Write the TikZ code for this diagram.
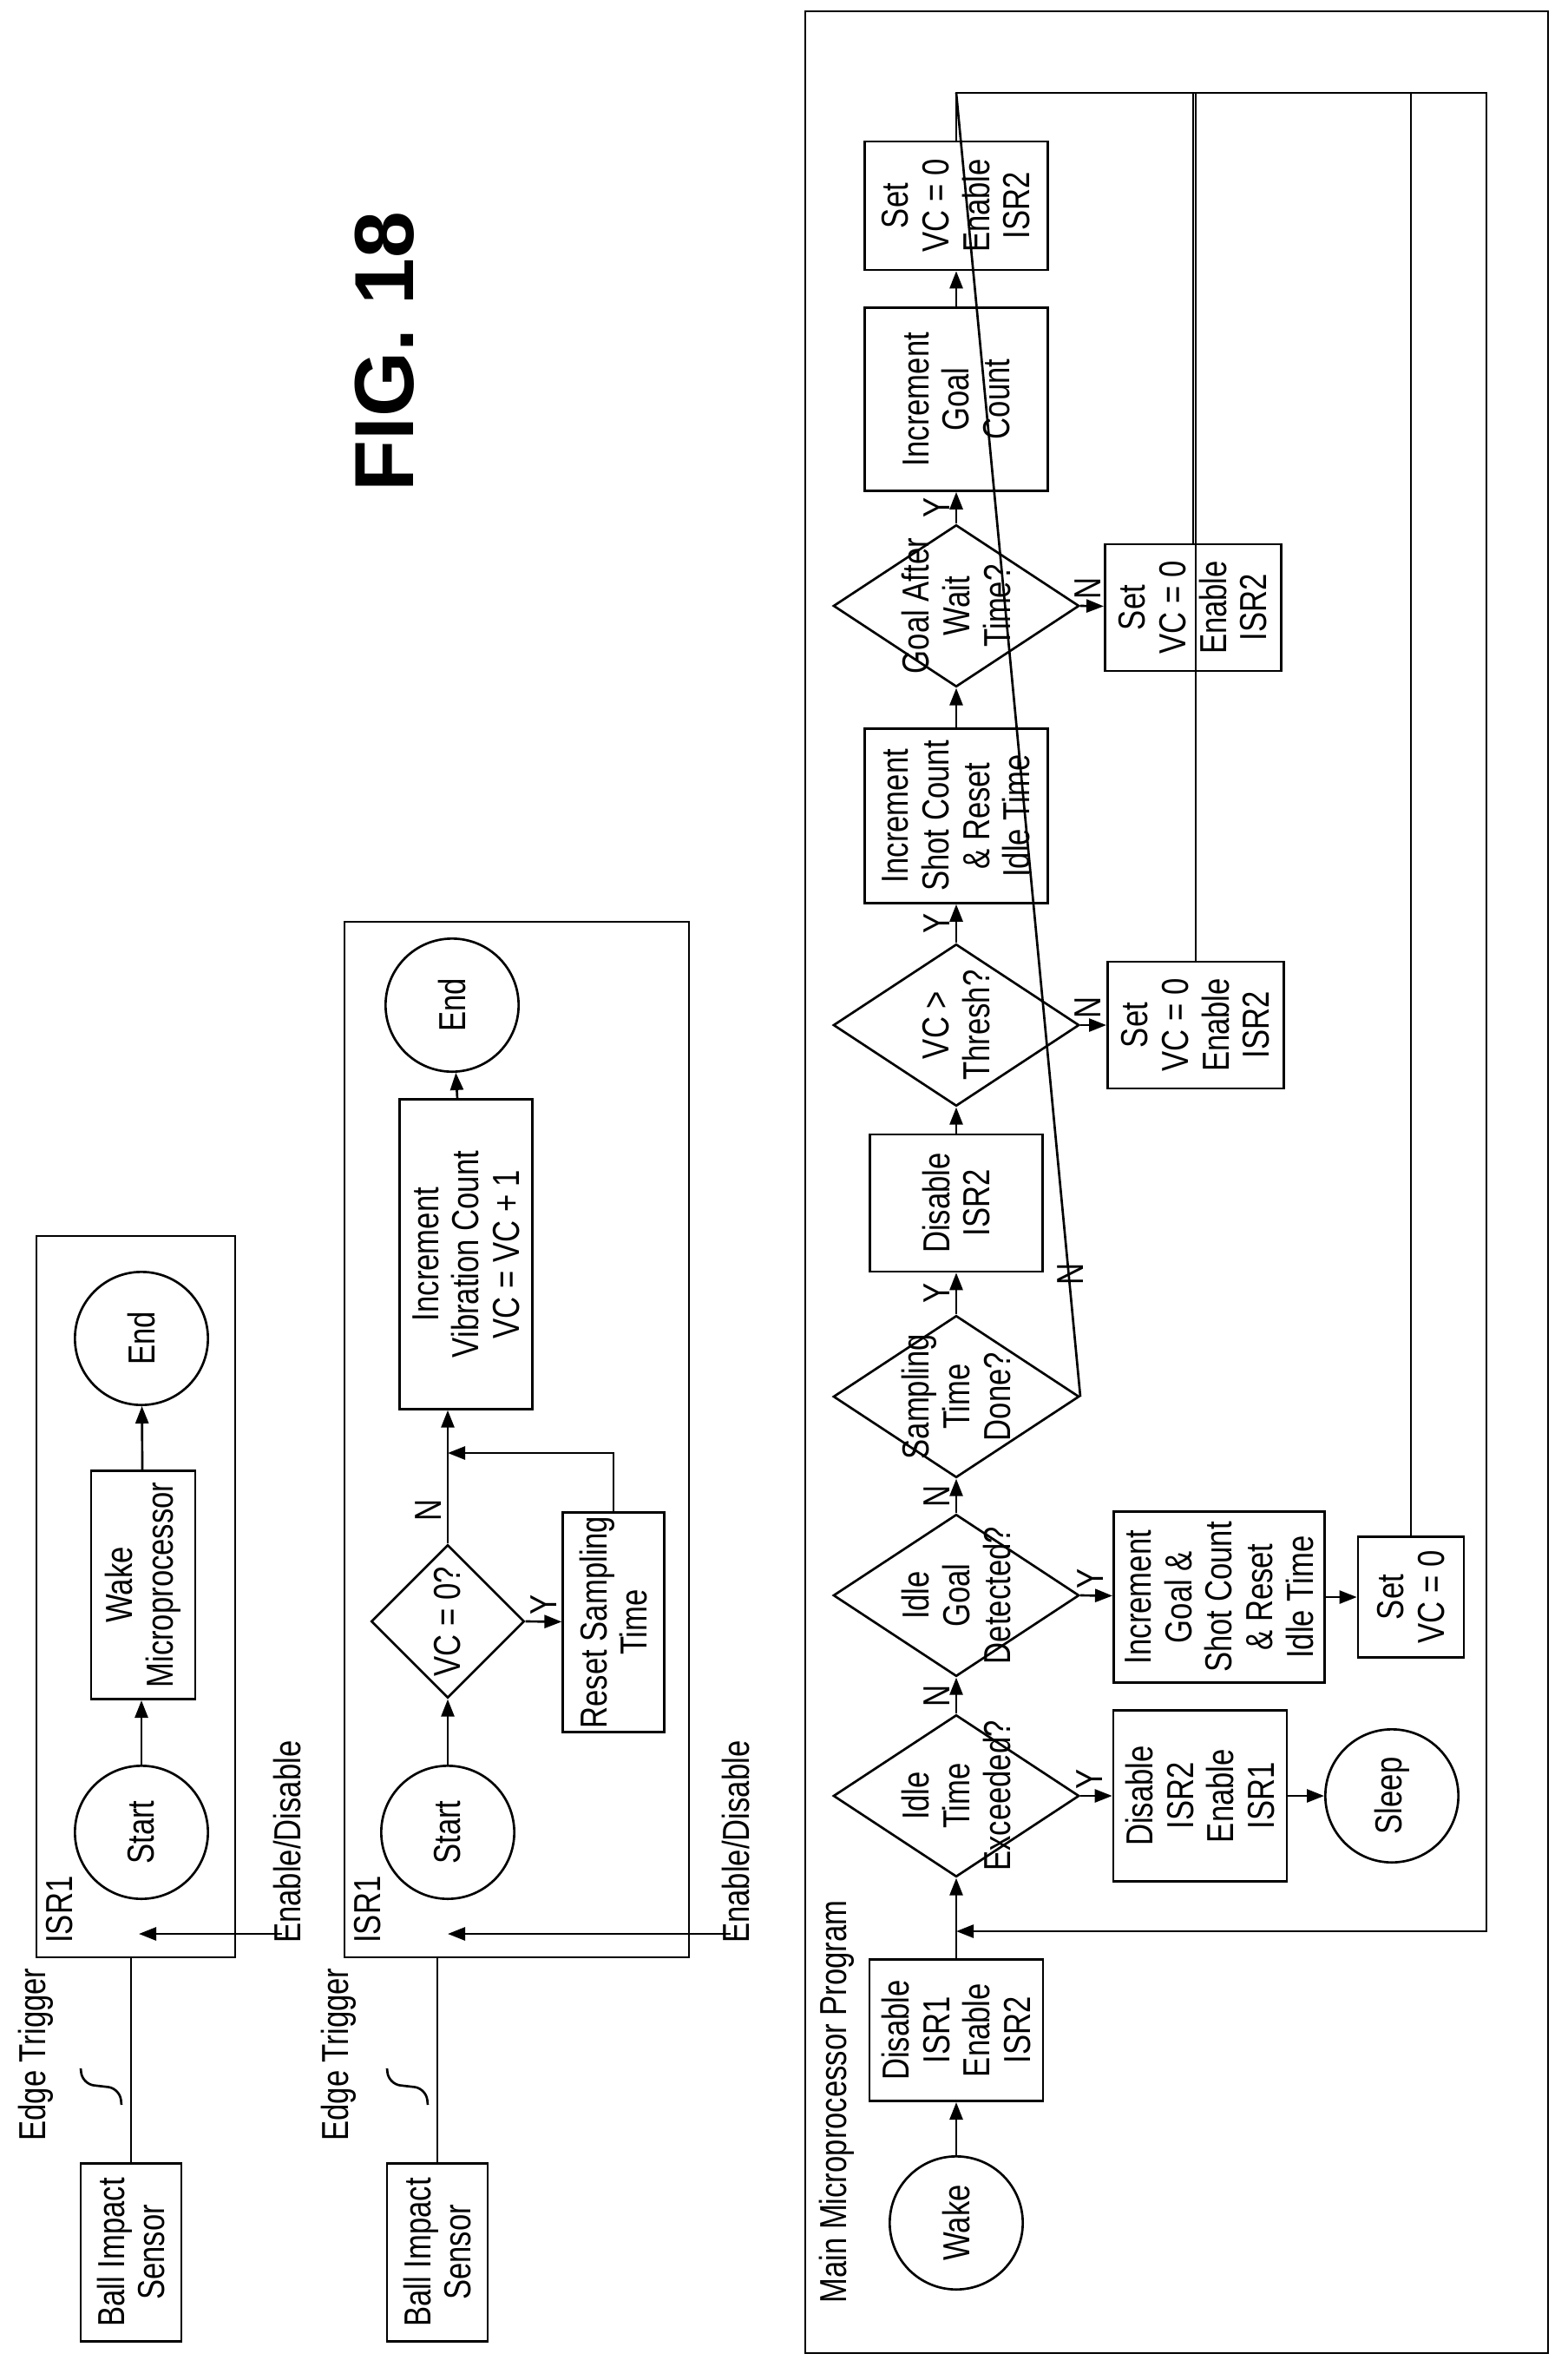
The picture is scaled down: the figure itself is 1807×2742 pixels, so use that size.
\documentclass[tikz,border=0pt]{standalone}
\usepackage{fontspec}
\setmainfont{Liberation Sans}[FakeStretch=0.8]
\newfontfamily\figfont{Liberation Sans}
\usetikzlibrary{arrows.meta,shapes.geometric}

\tikzset{every picture/.style={line width=0.8pt}}
\tikzset{
  txt/.style={font=\fontsize{13}{14}\selectfont, align=center},
  blk/.style={txt, draw, rectangle, inner sep=1pt},
  term/.style={txt, draw, circle, minimum size=46pt, inner sep=0pt},
  dec/.style={draw, diamond, minimum width=56pt, minimum height=85pt, inner sep=0pt},
  dlab/.style={txt, inner sep=0pt},
  flow/.style={-{Triangle[length=6pt,width=4.5pt]}},
  yn/.style={txt, inner sep=2pt}
}

\begin{document}
\begin{tikzpicture}[x=0.3pt,y=0.3pt]
\useasboundingbox (0,0) rectangle (1807,-2742);
\begin{scope}[rotate=90, transform shape]

% title
\node[font=\figfont\fontsize{29}{30}\selectfont\bfseries] (fig) at (-405,-443) {FIG. 18};

% first ISR1
\draw (-2255,-42) rectangle (-1424,-271);
\node[txt, anchor=north west, inner sep=0pt] (isrA) at (-2240,-52) {ISR1};
\node[term] (startA) at (-2111,-163) {Start};
\node[blk, minimum width=79pt, minimum height=36pt] (wakeA) at (-1826,-165) {Wake\\Microprocessor};
\node[term] (endA) at (-1542,-163) {End};
\draw[flow] (startA) -- (startA -| wakeA.west);
\draw[flow] (wakeA) -- (endA);
\node[blk, minimum width=61.5pt, minimum height=34.8pt] (sensA) at (-2595,-151) {Ball Impact\\Sensor};
\coordinate (inA) at (-2255,-151);
\draw (sensA) -- (inA);
\node[txt] (edgeA) at (-2367,-41) {Edge Trigger};
\draw[rounded corners=4pt] (-2383,-93) -- (-2401,-95) -- (-2406,-138) -- (-2425,-140);
\coordinate (enA) at (-2228,-325);
\coordinate (enAt) at (-2228,-160);
\draw[flow] (enA) -- (enAt);
\node[txt, anchor=west, inner sep=0pt] (enAl) at (-2240,-331) {Enable/Disable};

% second ISR1
\draw (-2255,-397) rectangle (-1062,-794);
\node[txt, anchor=north west, inner sep=0pt] (isrB) at (-2240,-407) {ISR1};
\node[term] (startB) at (-2111,-516) {Start};
\node[draw, diamond, minimum width=53pt, minimum height=53pt, inner sep=0pt,
      label={[dlab]center:VC = 0?}] (vcz) at (-1868,-516) {};
\node[blk, minimum width=76pt, minimum height=35pt] (reset) at (-1869,-707) {Reset Sampling\\Time};
\node[blk, minimum width=107pt, minimum height=46pt] (incv) at (-1445,-537) {Increment\\Vibration Count\\VC = VC + 1};
\node[term] (endB) at (-1158,-521) {End};
\coordinate (rj) at (-1674,-516);
\draw[flow] (startB) -- (vcz);
\draw[flow] (vcz.east) -- node[yn, above, pos=0.25] {N} (vcz.east -| incv.west);
\draw[flow] (vcz.south) -- node[yn, right] {Y} (reset);
\draw[flow] (reset.east) -| (rj);
\draw[flow] (incv) -- (endB);
\node[blk, minimum width=61.5pt, minimum height=34.8pt] (sensB) at (-2595,-504) {Ball Impact\\Sensor};
\coordinate (inB) at (-2255,-504);
\draw (sensB) -- (inB);
\node[txt] (edgeB) at (-2367,-390) {Edge Trigger};
\draw[rounded corners=4pt] (-2383,-446) -- (-2401,-448) -- (-2406,-491) -- (-2425,-493);
\coordinate (enB) at (-2228,-842);
\coordinate (enBt) at (-2228,-516);
\draw[flow] (enB) -- (enBt);
\node[txt, anchor=west, inner sep=0pt] (enBl) at (-2240,-848) {Enable/Disable};

% main program
\draw (-2711,-928) rectangle (-13,-1784);
\node[txt, anchor=west, inner sep=0pt] (mainl) at (-2655,-964) {Main Microprocessor Program};
\node[term] (wake) at (-2561,-1102) {Wake};
\node[blk, minimum width=49pt, minimum height=60pt] (dis1) at (-2339,-1102) {Disable\\ISR1\\Enable\\ISR2};
\node[dec, label={[dlab]center:Idle\\Time\\Exceeded?}] (idle) at (-2069,-1102) {};
\node[blk, minimum width=59pt, minimum height=60pt] (dis2en1) at (-2069,-1383) {Disable\\ISR2\\Enable\\ISR1};
\node[term] (sleep) at (-2069,-1604) {Sleep};
\node[dec, label={[dlab]center:Idle\\Goal\\Detected?}] (goal) at (-1838,-1102) {};
\node[blk, minimum width=59pt, minimum height=73pt] (incgs) at (-1840,-1405) {Increment\\Goal \&\\Shot Count\\\& Reset\\Idle Time};
\node[blk, minimum width=41.7pt, minimum height=36.6pt] (setA) at (-1840,-1626) {Set\\VC = 0};
\node[dec, label={[dlab]center:Sampling\\Time\\Done?}] (samp) at (-1609,-1102) {};
\node[blk, minimum width=47.4pt, minimum height=59.7pt] (dis2) at (-1386,-1102) {Disable\\ISR2};
\node[dec, label={[dlab]center:VC >\\Thresh?}] (thr) at (-1181,-1102) {};
\node[blk, minimum width=43.8pt, minimum height=61pt] (setB) at (-1181,-1378) {Set\\VC = 0\\Enable\\ISR2};
\node[blk, minimum width=60.3pt, minimum height=63.3pt] (incsc) at (-940,-1102) {Increment\\Shot Count\\\& Reset\\Idle Time};
\node[dec, label={[dlab]center:Goal After\\Wait\\Time?}] (wait) at (-698,-1102) {};
\node[blk, minimum width=43.8pt, minimum height=61pt] (setC) at (-700,-1375) {Set\\VC = 0\\Enable\\ISR2};
\node[blk, minimum width=63.3pt, minimum height=63.3pt] (incg) at (-460,-1102) {Increment\\Goal\\Count};
\node[blk, minimum width=44.4pt, minimum height=63.3pt] (setD) at (-237,-1102) {Set\\VC = 0\\Enable\\ISR2};
\coordinate (rt) at (-107,-1713);
\coordinate (rb) at (-2225,-1713);
\coordinate (ret) at (-2225,-1102);

\draw[flow] (wake) -- (dis1);
\draw[flow] (dis1) -- (idle);
\draw[flow] (idle) -- node[yn, above] {N} (goal);
\draw[flow] (idle.south) -- node[yn, right, pos=0.3] {Y} (dis2en1);
\draw[flow] (dis2en1) -- (sleep);
\draw[flow] (goal) -- node[yn, above] {N} (samp);
\draw[flow] (goal.south) -- node[yn, right, pos=0.3] {Y} (incgs);
\draw[flow] (incgs) -- (setA);
\draw (setA) -- (setA -| rt);
\draw[flow] (samp) -- node[yn, above] {Y} (dis2);
\draw (samp.south) -- node[yn, right, pos=0.08] {N} (samp -| rt);
\draw[flow] (dis2) -- (thr);
\draw[flow] (thr) -- node[yn, above] {Y} (incsc);
\draw[flow] (thr.south) -- node[yn, right, pos=0.3] {N} (setB);
\draw (setB) -- (setB -| rt);
\draw[flow] (incsc) -- (wait);
\draw[flow] (wait) -- node[yn, above] {Y} (incg);
\draw[flow] (wait.south) -- node[yn, right, pos=0.3] {N} (setC);
\draw (setC) -- (setC -| rt);
\draw[flow] (incg) -- (setD);
\draw[flow] (setD.east) -| (rt) -- (rb) -- (ret);

\end{scope}
\end{tikzpicture}
\end{document}
